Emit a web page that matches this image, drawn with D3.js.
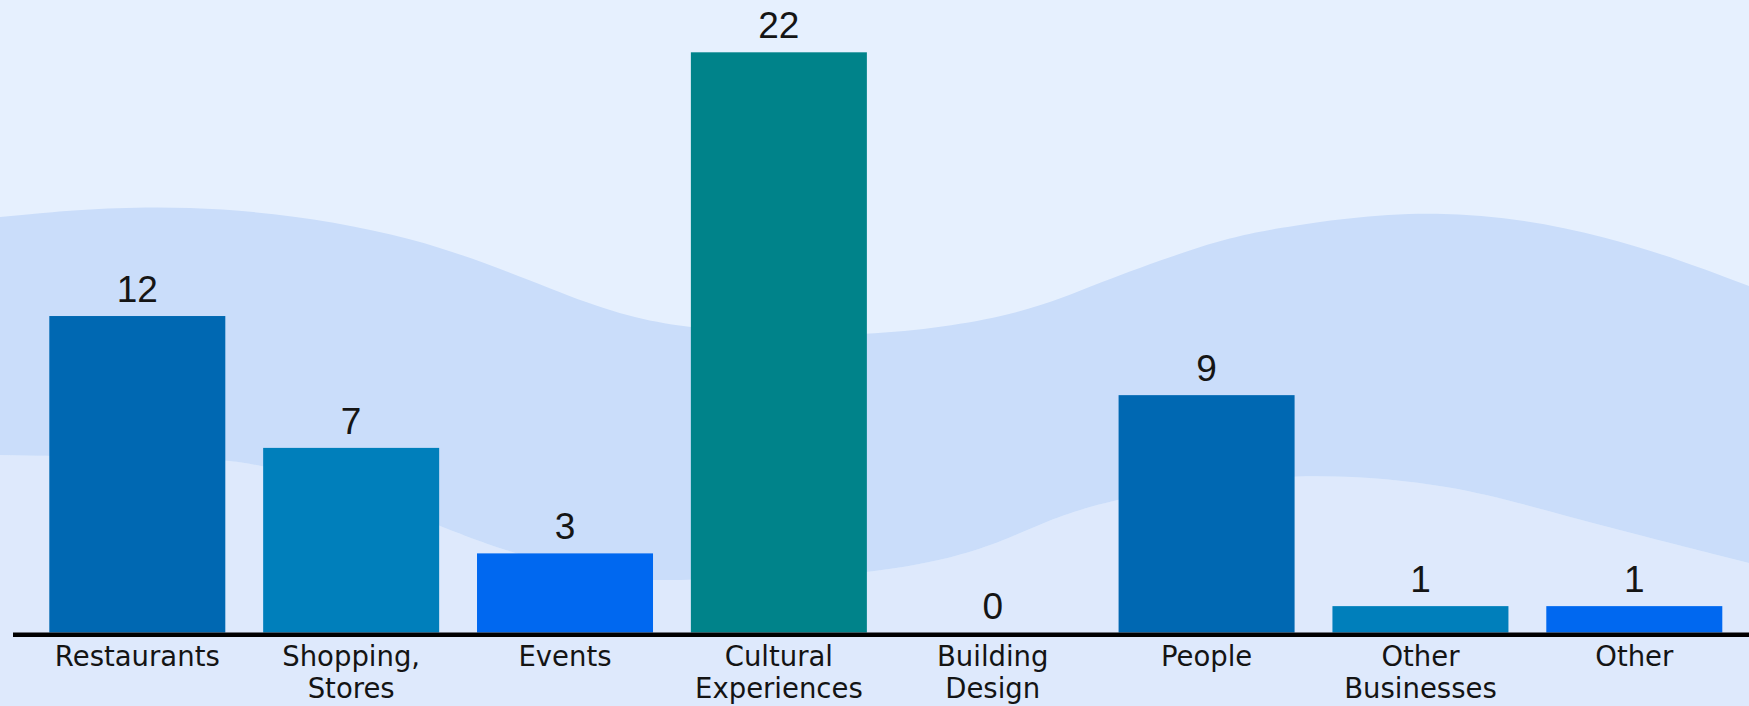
<!DOCTYPE html>
<html>
<head>
<meta charset="utf-8">
<script src="https://cdn.jsdelivr.net/npm/d3@7"></script>
<style>
  html, body { margin: 0; padding: 0; background: #E6F0FE; }
  svg { display: block; }
</style>
</head>
<body>
<svg id="chart" width="1749" height="706"></svg>
<script>
// ---- data ----
const categories = ["Restaurants", "Shopping,\nStores", "Events", "Cultural\nExperiences",
                    "Building\nDesign", "People", "Other\nBusinesses", "Other"];
const values = [12, 7, 3, 22, 0, 9, 1, 1];
const barColors = ["#0068B2", "#007FBB", "#0068F0", "#00838A", "#0068B2", "#0068B2", "#007FBB", "#0068F0"];

// background decoration (wave band) edges, in page pixels
const waveTop = [[0,217],[180,200],[421,231],[600,313],[700,331],[867,339],[1021,316],[1097,283],
                 [1200,246],[1264,229],[1436,205],[1608,233],[1749,286]];
const waveBottom = [[0,455],[226,459],[263,464],[439,524],[477,542],[600,579],[654,581],[867,577],
                    [983,551],[1040,523],[1118,496],[1295,470],[1455,484],[1570,518],[1749,563]];

const W = 1749, H = 706;
const svg = d3.select("#chart");

// background
svg.append("rect").attr("width", W).attr("height", H).attr("fill", "#E6F0FE");
const lineGen = d3.line().curve(d3.curveBasis);
// lower light area
svg.append("path")
  .attr("d", lineGen(waveBottom) + "L" + W + "," + H + "L0," + H + "Z")
  .attr("fill", "#DEE9FC");
// wave band
svg.append("clipPath").attr("id", "bandClip")
  .append("path")
  .attr("d", "M0,0L" + W + ",0" + lineGen(waveBottom.slice().reverse()).replace("M", "L") + "Z");
svg.append("path")
  .attr("d", lineGen(waveTop) + "L" + W + "," + H + "L0," + H + "Z")
  .attr("fill", "#CADDFA")
  .attr("clip-path", "url(#bandClip)");

// scales
const x = d3.scaleBand()
  .domain(categories)
  .range([49.3, 1722.3])
  .paddingInner(0.177)
  .paddingOuter(0);

const y = d3.scaleLinear()
  .domain([0, 22])
  .range([632.5, 52.3]);

// bars
svg.append("g").selectAll("rect")
  .data(values)
  .join("rect")
  .attr("x", (d, i) => x(categories[i]))
  .attr("y", d => y(d))
  .attr("width", x.bandwidth())
  .attr("height", d => y(0) - y(d))
  .attr("fill", (d, i) => barColors[i]);

// value labels
svg.append("g").selectAll("text")
  .data(values)
  .join("text")
  .attr("x", (d, i) => x(categories[i]) + x.bandwidth() / 2)
  .attr("y", d => y(d) - 14)
  .attr("text-anchor", "middle")
  .attr("font-family", "'Liberation Sans', Arial, sans-serif")
  .attr("font-size", 37)
  .attr("fill", "#151515")
  .text(d => d);

// x axis (labels only, baseline drawn separately)
const axis = svg.append("g")
  .attr("transform", `translate(0,${y(0)})`)
  .call(d3.axisBottom(x).tickSize(0).tickFormat(""));
axis.select(".domain").remove();

axis.selectAll(".tick").each(function(d) {
  const t = d3.select(this).append("text")
    .attr("text-anchor", "middle")
    .attr("font-family", "'DejaVu Sans', sans-serif")
    .attr("font-size", 27.5)
    .attr("fill", "#141414");
  d.split("\n").forEach((line, k) => {
    t.append("tspan").attr("x", 0).attr("y", 33 + k * 32).text(line);
  });
});

// baseline
svg.append("line")
  .attr("x1", 13).attr("x2", W)
  .attr("y1", y(0) + 2.2).attr("y2", y(0) + 2.2)
  .attr("stroke", "#000").attr("stroke-width", 4.5);
</script>
</body>
</html>
